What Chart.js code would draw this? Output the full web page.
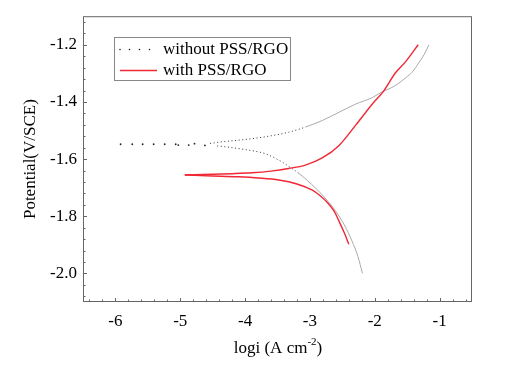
<!DOCTYPE html>
<html>
<head>
<meta charset="utf-8">
<script src="https://cdn.jsdelivr.net/npm/chart.js@4.4.0/dist/chart.umd.min.js"></script>
<style>
  html, body { margin: 0; padding: 0; background: #fff; }
  #wrap { width: 506px; height: 369px; position: relative; }
</style>
</head>
<body>
<div id="wrap"><canvas id="tafel"></canvas></div>
<script>
// tick labels
const xMajor = [-6, -5, -4, -3, -2, -1];
const yMajor = [-2.0, -1.8, -1.6, -1.4, -1.2];

// without PSS/RGO - anodic (upper) branch
const bareAnodicX = [-5.92, -5.74, -5.58, -5.41, -5.24, -5.07, -4.78, -4.54, -4.41, -4.30, -4.20, -3.99, -3.69, -3.33, -3.07, -2.81, -2.55, -2.30, -2.04, -1.89, -1.70, -1.52, -1.42, -1.32, -1.24, -1.165];
const bareAnodicY = [-1.548, -1.548, -1.548, -1.548, -1.548, -1.548, -1.546, -1.545, -1.541, -1.538, -1.536, -1.531, -1.522, -1.506, -1.488, -1.465, -1.436, -1.408, -1.385, -1.365, -1.345, -1.315, -1.295, -1.263, -1.235, -1.200];
// without PSS/RGO - cathodic (lower) branch
const bareCathodicX = [-5.03, -4.87, -4.62, -4.43, -4.20, -3.99, -3.79, -3.69, -3.43, -3.33, -3.17, -2.91, -2.75, -2.60, -2.47, -2.35, -2.26, -2.19];
const bareCathodicY = [-1.551, -1.551, -1.552, -1.554, -1.560, -1.567, -1.575, -1.581, -1.610, -1.625, -1.650, -1.702, -1.740, -1.783, -1.830, -1.887, -1.940, -2.000];

// with PSS/RGO - anodic branch
const coatAnodicX = [-4.93, -4.50, -4.20, -3.90, -3.60, -3.33, -3.07, -2.81, -2.55, -2.30, -2.04, -1.86, -1.68, -1.52, -1.33];
const coatAnodicY = [-1.655, -1.653, -1.651, -1.648, -1.642, -1.633, -1.621, -1.596, -1.552, -1.483, -1.408, -1.361, -1.298, -1.258, -1.200];
// with PSS/RGO - cathodic branch
const coatCathodicX = [-4.93, -4.50, -4.10, -3.80, -3.48, -3.20, -2.97, -2.86, -2.71, -2.62, -2.55, -2.47, -2.40];
const coatCathodicY = [-1.656, -1.659, -1.662, -1.666, -1.673, -1.687, -1.708, -1.725, -1.757, -1.785, -1.818, -1.858, -1.898];

const serif = "'Liberation Serif', 'Times New Roman', serif";
const red = "rgb(240, 40, 52)";

function pts(xs, ys) {
  return xs.map((x, i) => ({ x: x, y: ys[i] }));
}

// sparse start is only dots, middle part dotted, rest a thin grey line
function bareSegment(xs) {
  return {
    borderColor: (ctx) => (xs[ctx.p0DataIndex] < -4.6 ? "rgba(0,0,0,0)" : xs[ctx.p0DataIndex] < -3.25 ? "#333" : "#aaa"),
    borderDash: (ctx) => (xs[ctx.p0DataIndex] < -3.25 ? [1, 2.6] : []),
  };
}

const frameAndTicks = {
  id: "frameAndTicks",
  afterDraw(chart) {
    const { ctx, chartArea: a, scales } = chart;
    ctx.save();
    ctx.strokeStyle = "#666";
    ctx.lineWidth = 1;
    ctx.strokeRect(a.left + 0.5, a.top + 0.5, a.right - a.left - 1, a.bottom - a.top - 1);

    ctx.beginPath();
    for (let i = -32; i <= -3; i++) {
      const px = Math.round(scales.x.getPixelForValue(i / 5)) + 0.5;
      const len = i % 5 === 0 ? 4 : 2.5;
      ctx.moveTo(px, a.bottom);
      ctx.lineTo(px, a.bottom - len);
    }
    for (let i = -52; i <= -28; i++) {
      const py = Math.round(scales.y.getPixelForValue(i / 25)) + 0.5;
      const len = i % 5 === 0 ? 4 : 2.5;
      ctx.moveTo(a.left, py);
      ctx.lineTo(a.left + len, py);
    }
    ctx.stroke();

    // x axis title with superscript
    ctx.fillStyle = "#000";
    ctx.textBaseline = "alphabetic";
    const main = "logi (A cm";
    const sup = "-2";
    ctx.font = "17px " + serif;
    const w1 = ctx.measureText(main).width;
    const w3 = ctx.measureText(")").width;
    ctx.font = "11px " + serif;
    const w2 = ctx.measureText(sup).width;
    let x0 = 278 - (w1 + w2 + w3) / 2;
    const base = 353;
    ctx.font = "17px " + serif;
    ctx.textAlign = "left";
    ctx.fillText(main, x0, base);
    ctx.font = "11px " + serif;
    ctx.fillText(sup, x0 + w1, base - 8);
    ctx.font = "17px " + serif;
    ctx.fillText(")", x0 + w1 + w2, base);

    // legend box
    ctx.strokeStyle = "#888";
    ctx.strokeRect(114.5, 37.5, 176, 43);
    ctx.fillStyle = "#222";
    [120, 129.5, 139.5, 149.5].forEach((dx) => {
      ctx.beginPath();
      ctx.arc(dx, 49.5, 0.8, 0, Math.PI * 2);
      ctx.fill();
    });
    ctx.strokeStyle = red;
    ctx.lineWidth = 1.4;
    ctx.beginPath();
    ctx.moveTo(120, 70.5);
    ctx.lineTo(157, 70.5);
    ctx.stroke();
    ctx.fillStyle = "#000";
    ctx.font = "17px " + serif;
    ctx.textBaseline = "middle";
    ctx.fillText("without PSS/RGO", 163, 50);
    ctx.fillText("with PSS/RGO", 163, 71);
    ctx.restore();
  },
};

new Chart(document.getElementById("tafel"), {
  type: "line",
  data: {
    datasets: [
      {
        label: "with PSS/RGO",
        data: pts(coatAnodicX, coatAnodicY),
        borderColor: red,
        borderWidth: 1.4,
        pointRadius: 0,
        cubicInterpolationMode: "monotone",
      },
      {
        label: "with PSS/RGO cathodic",
        data: pts(coatCathodicX, coatCathodicY),
        borderColor: red,
        borderWidth: 1.4,
        pointRadius: 0,
        cubicInterpolationMode: "monotone",
      },
      {
        label: "without PSS/RGO",
        data: pts(bareAnodicX, bareAnodicY),
        borderColor: "#aaa",
        borderWidth: 1,
        pointRadius: (ctx) => (bareAnodicX[ctx.dataIndex] < -4.6 ? 0.9 : 0),
        pointBackgroundColor: "#222",
        pointBorderWidth: 0,
        segment: bareSegment(bareAnodicX),
        cubicInterpolationMode: "monotone",
      },
      {
        label: "without PSS/RGO cathodic",
        data: pts(bareCathodicX, bareCathodicY),
        borderColor: "#aaa",
        borderWidth: 1,
        pointRadius: (ctx) => (bareCathodicX[ctx.dataIndex] < -4.6 ? 0.9 : 0),
        pointBackgroundColor: "#222",
        pointBorderWidth: 0,
        segment: bareSegment(bareCathodicX),
        cubicInterpolationMode: "monotone",
      },
    ],
  },
  options: {
    responsive: true,
    maintainAspectRatio: false,
    animation: false,
    layout: { padding: { top: 13, right: 34, left: 0, bottom: 0 } },
    plugins: { legend: { display: false }, tooltip: { enabled: false } },
    scales: {
      x: {
        type: "linear",
        min: -6.5,
        max: -0.5,
        afterBuildTicks: (s) => { s.ticks = xMajor.map((v) => ({ value: v })); },
        afterFit: (s) => { s.height = 67; },
        grid: { display: false, drawTicks: false },
        border: { display: false },
        ticks: { color: "#000", padding: 9, font: { family: serif, size: 17 }, callback: (v) => String(v) },
      },
      y: {
        type: "linear",
        min: -2.1,
        max: -1.1,
        afterBuildTicks: (s) => { s.ticks = yMajor.map((v) => ({ value: v })); },
        afterFit: (s) => { s.width = 83; },
        grid: { display: false, drawTicks: false },
        border: { display: false },
        ticks: { color: "#000", padding: 6, font: { family: serif, size: 17 }, callback: (v) => v.toFixed(1) },
        title: { display: true, text: "Potential(V/SCE)", color: "#000", font: { family: serif, size: 17 }, padding: { top: 20, bottom: 0 } },
      },
    },
  },
  plugins: [frameAndTicks],
});
</script>
</body>
</html>
